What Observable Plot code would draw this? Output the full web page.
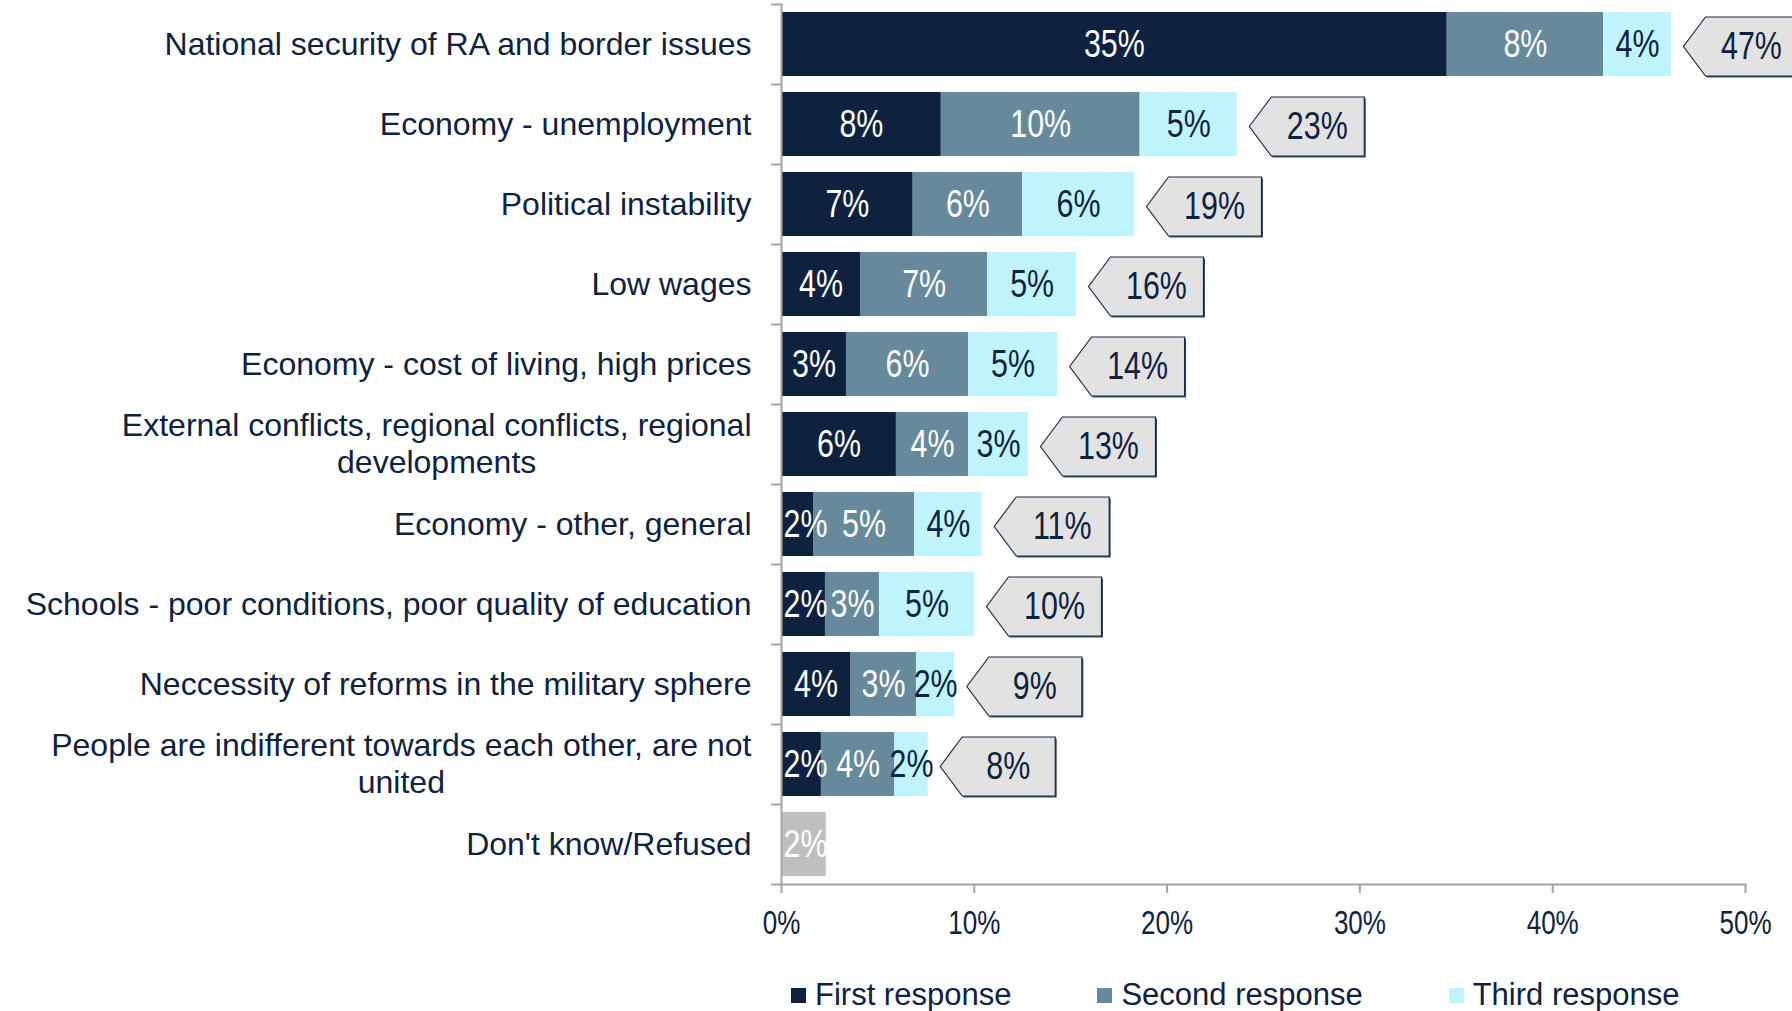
<!DOCTYPE html>
<html>
<head>
<meta charset="utf-8">
<script src="https://cdn.jsdelivr.net/npm/d3@7"></script>
<script src="https://cdn.jsdelivr.net/npm/@observablehq/plot@0.6"></script>
<style>
  html, body { margin: 0; padding: 0; background: #fff; overflow: hidden; }
  body { width: 1792px; height: 1011px; position: relative; }
  #legend { position: absolute; left: 0; top: 977px; height: 36px; display: flex; align-items: center;
            padding-left: 791px; font-family: 'Liberation Sans', Arial, sans-serif; font-size: 31px; color: #0e223f; }
  #legend .item { display: flex; align-items: center; margin-right: 86px; white-space: nowrap; }
  #legend .sw { width: 15px; height: 15px; margin-right: 9px; }
</style>
</head>
<body>
<div id="chart"></div>
<div id="legend"></div>
<script>
// ---- data ----
const categories = [
  "National security of RA and border issues",
  "Economy - unemployment",
  "Political instability",
  "Low wages",
  "Economy - cost of living, high prices",
  "External conflicts, regional conflicts, regional\ndevelopments",
  "Economy - other, general",
  "Schools - poor conditions, poor quality of education",
  "Neccessity of reforms in the military sphere",
  "People are indifferent towards each other, are not\nunited",
  "Don't know/Refused"
];
const series = ["First response", "Second response", "Third response", "Don't know/Refused"];
const legendSeries = ["First response", "Second response", "Third response"];
const firstResponse  = [34.53, 8.29, 6.83, 4.10, 3.37, 5.96, 1.66, 2.28, 3.58, 2.07, 0];
const secondResponse = [8.11, 10.31, 5.67, 6.60, 6.33, 3.74, 5.24, 2.80, 3.42, 3.81, 0];
const thirdResponse  = [3.52, 5.04, 5.81, 4.60, 4.62, 3.11, 3.51, 4.93, 1.99, 1.73, 0];
const dontKnow       = [0, 0, 0, 0, 0, 0, 0, 0, 0, 0, 2.32];
const totals         = [47, 23, 19, 16, 14, 13, 11, 10, 9, 8, null];
const xTicks = [0, 10, 20, 30, 40, 50];

// ---- styles ----
const colors = ["#0e223f", "#67899c", "#c0f4fd", "#bfbfbf"];
const navy = "#0e223f";
const gray = "#a3a3a3";
const regular = "'Liberation Sans', Arial, sans-serif";
const narrowScale = 0.8;   // horizontal condensing of data / tick labels
const labelSize = 32;
const valueSize = 38;
const tickSize = 32.5;

// ---- derived table ----
const seriesArrays = [firstResponse, secondResponse, thirdResponse, dontKnow];
const rows = [];
categories.forEach((c, i) => {
  let acc = 0;
  seriesArrays.forEach((arr, s) => {
    const v = arr[i];
    if (v > 0) {
      rows.push({cat: c, series: series[s], value: v, x1: acc, x2: acc + v, mid: acc + v / 2,
                 label: Math.round(v) + "%", dark: s === 2});
      acc += v;
    }
  });
});
const totalRows = categories.map((c, i) => ({
  cat: c, end: firstResponse[i] + secondResponse[i] + thirdResponse[i], total: totals[i]
})).filter(d => d.total != null);

// keep a label inside the plot when its segment is narrower than the label
const xScaleTmp = d3.scaleLinear([0, 50], [781, 1745]);
const mctx = document.createElement("canvas").getContext("2d");
function measure(t, size, fam) { mctx.font = `${size}px ${fam}`; return mctx.measureText(t).width; }
rows.forEach(d => {
  const half = measure(d.label, valueSize, regular) * narrowScale / 2 + 2;
  d.lx = Math.max(d.mid, xScaleTmp.invert(781 + half));
});

// callout symbol (arrow-tag pointing left), drawn relative to the bar end
const calloutSymbol = {
  draw(ctx) {
    const gap = 12, arrow = 22, w = 93, h = 29.5;
    ctx.moveTo(gap, 0);
    ctx.lineTo(gap + arrow, -h);
    ctx.lineTo(gap + arrow + w, -h);
    ctx.lineTo(gap + arrow + w, h);
    ctx.lineTo(gap + arrow, h);
    ctx.closePath();
  }
};

const labelMarks = [];
labelMarks.push(Plot.text(categories.filter(c => !c.includes("\n")), {
  y: d => d, text: d => d, frameAnchor: "left", dx: -30, textAnchor: "end",
  fontSize: labelSize, fontFamily: regular, fill: navy
}));
categories.filter(c => c.includes("\n")).forEach(c => {
  const [l1, l2] = c.split("\n");
  const w1 = measure(l1, labelSize, regular);
  labelMarks.push(Plot.text([c], {y: d => d, text: () => l1, frameAnchor: "left", dx: -30, dy: -18.5,
    textAnchor: "end", fontSize: labelSize, fontFamily: regular, fill: navy}));
  labelMarks.push(Plot.text([c], {y: d => d, text: () => l2, frameAnchor: "left", dx: -30 - w1 / 2, dy: 18.5,
    textAnchor: "middle", fontSize: labelSize, fontFamily: regular, fill: navy}));
});

const chart = Plot.plot({
  width: 1792,
  height: 950,
  marginLeft: 781,
  marginRight: 47,
  marginTop: 4,
  marginBottom: 66,
  style: {fontFamily: regular, background: "white", overflow: "hidden"},
  x: {domain: [0, 50]},
  y: {domain: categories, paddingInner: 0.2, paddingOuter: 0.1, round: false},
  color: {domain: series, range: colors},
  marks: [
    Plot.barX(rows, {x1: "x1", x2: "x2", y: "cat", fill: "series"}),
    Plot.text(rows.filter(d => !d.dark), {x: "lx", y: "cat", text: "label", fill: "white",
      fontSize: valueSize, fontFamily: regular}),
    Plot.text(rows.filter(d => d.dark), {x: "lx", y: "cat", text: "label", fill: navy,
      fontSize: valueSize, fontFamily: regular}),
    // callout shadow + callout
    Plot.dot(totalRows, {x: "end", y: "cat", symbol: calloutSymbol, r: 5, fill: "#3b4a62", dx: 1.5, dy: 3.5}),
    Plot.dot(totalRows, {x: "end", y: "cat", symbol: calloutSymbol, r: 5, fill: "#e2e2e2",
      stroke: "#1b2a44", strokeWidth: 1.2, dy: 2}),
    Plot.text(totalRows, {x: "end", y: "cat", text: d => d.total + "%", dx: 80, dy: 2, fill: navy,
      fontSize: valueSize, fontFamily: regular}),
    // axes
    Plot.frame({anchor: "left", stroke: gray, strokeWidth: 2}),
    Plot.frame({anchor: "bottom", stroke: gray, strokeWidth: 2}),
    Plot.axisY({tickSize: 10, tickFormat: () => "", label: null, dy: -40, color: gray, strokeWidth: 2}),
    Plot.axisY([categories[categories.length - 1]], {tickSize: 10, tickFormat: () => "", label: null, dy: 40, color: gray, strokeWidth: 2}),
    Plot.axisX(xTicks, {tickSize: 9, tickFormat: () => "", label: null, color: gray, strokeWidth: 2}),
    Plot.axisX(xTicks, {tickSize: 0, tickPadding: 26, tickFormat: d => d + "%", label: null, color: navy,
      fontSize: tickSize, fontFamily: regular}),
    ...labelMarks
  ]
});
document.getElementById("chart").appendChild(chart);

// condense the data-label / tick-label glyphs horizontally (narrow typeface look)
chart.querySelectorAll(`g[font-size="${valueSize}"] text, g[font-size="${tickSize}"] text`).forEach(t => {
  const tr = t.getAttribute("transform") || "";
  const x = t.getAttribute("x");
  if (x != null && isFinite(+x)) {
    t.removeAttribute("x");
    t.setAttribute("transform", `${tr} translate(${+x},0) scale(${narrowScale},1)`);
  } else {
    t.setAttribute("transform", `${tr} scale(${narrowScale},1)`);
  }
});

// legend
const legend = document.getElementById("legend");
legendSeries.forEach((s, i) => {
  const item = document.createElement("div");
  item.className = "item";
  const sw = document.createElement("span");
  sw.className = "sw";
  sw.style.background = colors[i];
  item.appendChild(sw);
  item.appendChild(document.createTextNode(s));
  legend.appendChild(item);
});
</script>
</body>
</html>
